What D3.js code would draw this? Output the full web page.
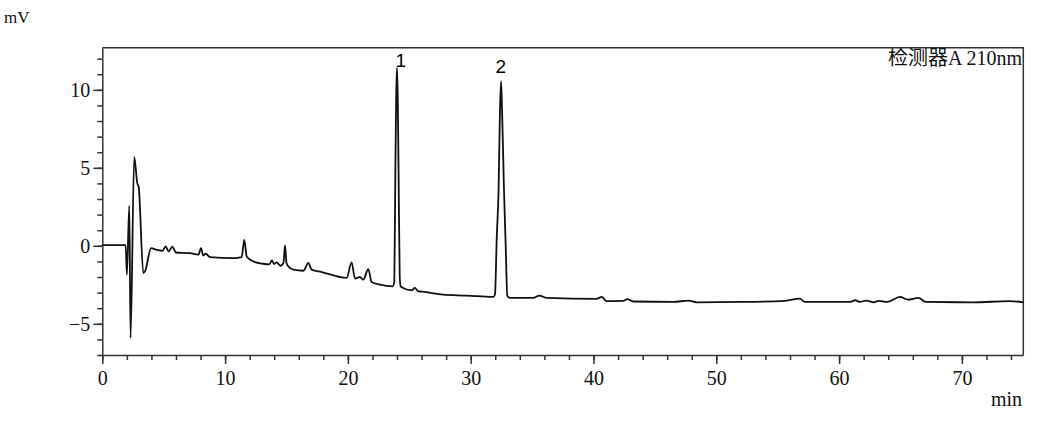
<!DOCTYPE html>
<html>
<head>
<meta charset="utf-8">
<script src="https://cdn.jsdelivr.net/npm/d3@7"></script>
<style>
  body { margin: 0; background: #fff; }
  .tick text { font-family: "Liberation Serif", serif; font-size: 20px; fill: #111; }
  .domain, .tick line { stroke: #333; stroke-width: 1.5px; }
</style>
</head>
<body>
<div id="chart"></div>
<script>
// chromatogram trace: retention time (min) and signal (mV)
var traceTime = [0, 1.9, 2.0, 2.2, 2.3, 2.6, 2.85, 2.96, 3.34, 3.48, 3.97, 4.43, 4.9, 5.16, 5.4, 5.7, 6.0,
    7.14, 7.82, 8.04, 8.22, 8.42, 8.77, 10.67, 11.35, 11.56, 11.76, 12.3, 13.1, 13.6, 13.82, 13.98,
    14.2, 14.5, 14.75, 14.88, 15.0, 15.15, 15.56, 16.37, 16.78, 17.05, 17.87, 19.9, 20.3, 20.58,
    20.98, 21.25, 21.66, 21.93, 22.6, 23.65, 23.78, 23.86, 23.93, 24.0, 24.06, 24.13, 24.22, 24.3,
    24.5, 25.2, 25.46, 25.7, 26.28, 27.77, 29.67, 31.84, 31.98, 32.12, 32.27, 32.38, 32.47, 32.56,
    32.71, 32.85, 32.98, 33.2, 35.1, 35.58, 36.2, 40.26, 40.67, 41.07, 42.43, 42.75, 43.24, 46.5,
    47.72, 48.4, 51.93, 55.6, 56.8, 57.2, 60.9, 61.3, 61.7, 62.2, 62.8, 63.2, 63.9, 64.96, 65.6,
    66.45, 67.1, 70.9, 73.9, 75];
var traceMV = [0.05, 0.05, -1.85, 2.57, -5.9, 5.7, 4.0, 3.8, -1.75, -1.64, -0.15, -0.26, -0.32, -0.04, -0.36, -0.06, -0.43,
    -0.47, -0.57, -0.15, -0.62, -0.51, -0.72, -0.79, -0.72, 0.38, -0.68, -1.0, -1.15, -1.19, -0.94, -1.17,
    -1.06, -1.28, -1.1, 0.02, -1.1, -1.32, -1.53, -1.6, -1.1, -1.53, -1.68, -2.06, -1.06, -2.1,
    -2.0, -2.17, -1.49, -2.32, -2.49, -2.6, -2.3, 4.4, 9.5, 11.4, 9.5, 4.4, -2.0, -2.6,
    -2.7, -2.85, -2.7, -2.9, -2.96, -3.13, -3.19, -3.28, -3.1, 0.5, 3.6, 8.5, 10.55, 8.5,
    3.6, 0.0, -3.2, -3.34, -3.34, -3.19, -3.34, -3.4, -3.28, -3.55, -3.53, -3.42, -3.57, -3.6,
    -3.51, -3.62, -3.6, -3.53, -3.38, -3.6, -3.6, -3.49, -3.6, -3.51, -3.62, -3.53, -3.6, -3.28, -3.45,
    -3.34, -3.6, -3.62, -3.55, -3.62];

var peakNames = ["1", "2"];
var peakTime = [24.3, 32.45];
var peakLabelMV = [11.45, 11.1];

var xMajor = [0, 10, 20, 30, 40, 50, 60, 70];
var xMinor = d3.range(0, 76, 2);
var yMajor = [-5, 0, 5, 10];
var yMinor = d3.range(-7, 13, 1);

var width = 1041, height = 433;
var plotL = 102.3, plotR = 1023.3, plotT = 47.7, plotB = 355;

var svg = d3.select("#chart").append("svg")
    .attr("width", width)
    .attr("height", height);

var x = d3.scaleLinear().domain([0, 75]).range([plotL, plotR]);
var y = d3.scaleLinear().domain([-7, 12.7]).range([plotB, plotT]);

// frame: top and right edges
svg.append("path")
    .attr("d", "M" + plotL + "," + plotT + "H" + plotR + "V" + plotB)
    .attr("fill", "none")
    .attr("stroke", "#333")
    .attr("stroke-width", 1.5);

// minor ticks first, then the labelled ones
svg.append("g")
    .attr("transform", "translate(0," + plotB + ")")
    .call(d3.axisBottom(x).tickValues(xMinor).tickSize(5).tickFormat(""))
    .call(g => g.select(".domain").remove());
svg.append("g")
    .attr("transform", "translate(0," + plotB + ")")
    .call(d3.axisBottom(x).tickValues(xMajor).tickSize(9).tickSizeOuter(0).tickPadding(7));

svg.append("g")
    .attr("transform", "translate(" + plotL + ",0)")
    .call(d3.axisLeft(y).tickValues(yMinor).tickSize(5).tickFormat(""))
    .call(g => g.select(".domain").remove());
svg.append("g")
    .attr("transform", "translate(" + plotL + ",0)")
    .call(d3.axisLeft(y).tickValues(yMajor).tickSize(9).tickSizeOuter(0).tickPadding(3)
        .tickFormat(d => d < 0 ? "\u2212" + Math.abs(d) : d));

var points = traceTime.map((t, i) => [t, traceMV[i]]);
var line = d3.line()
    .curve(d3.curveMonotoneX)
    .x(d => x(d[0]))
    .y(d => y(d[1]));

svg.append("path")
    .datum(points)
    .attr("d", line)
    .attr("fill", "none")
    .attr("stroke", "#111")
    .attr("stroke-width", 1.8)
    .attr("stroke-linejoin", "round");

svg.selectAll(".peak")
    .data(peakNames)
    .join("text")
    .attr("class", "peak")
    .attr("x", (d, i) => x(peakTime[i]))
    .attr("y", (d, i) => y(peakLabelMV[i]))
    .attr("text-anchor", "middle")
    .style("font-family", "'Liberation Sans', Arial, sans-serif")
    .style("font-size", "19px")
    .style("fill", "#000")
    .text(d => d);

svg.append("text")
    .attr("x", 4)
    .attr("y", 23)
    .style("font-family", "'Liberation Serif', serif")
    .style("font-size", "17px")
    .style("fill", "#111")
    .text("mV");

svg.append("text")
    .attr("x", 1022)
    .attr("y", 406)
    .attr("text-anchor", "end")
    .style("font-family", "'Liberation Serif', serif")
    .style("font-size", "20px")
    .style("fill", "#111")
    .text("min");

svg.append("text")
    .attr("x", 1022)
    .attr("y", 65)
    .attr("text-anchor", "end")
    .style("font-family", "'Liberation Serif', 'Noto Sans CJK SC', serif")
    .style("font-size", "20px")
    .style("fill", "#111")
    .text("检测器A 210nm");
</script>
</body>
</html>
